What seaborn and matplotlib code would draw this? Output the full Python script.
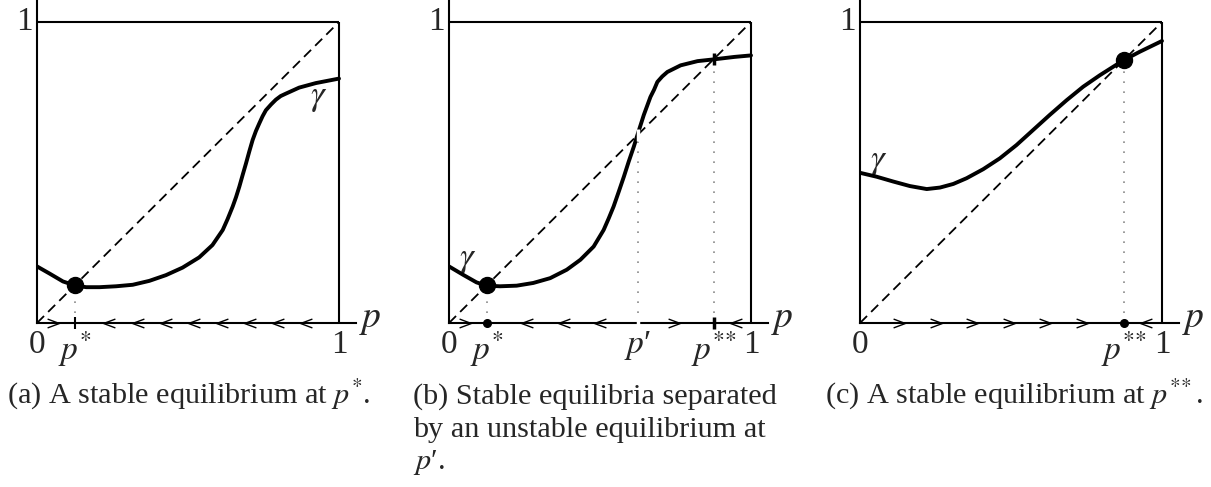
import matplotlib
matplotlib.use("Agg")
import matplotlib.pyplot as plt
from matplotlib.path import Path
import seaborn as sns
import pandas as pd

# ---- curve gamma(p) for each scenario ----
a_p = [0.0, 0.042, 0.086, 0.128, 0.163, 0.207, 0.262, 0.317, 0.372, 0.427, 0.482,
       0.537, 0.581, 0.615, 0.631, 0.648, 0.659, 0.670, 0.681, 0.692, 0.703,
       0.714, 0.725, 0.736, 0.747, 0.758, 0.775, 0.791, 0.807, 0.824, 0.868,
       0.923, 1.0]
a_g = [0.188, 0.164, 0.138, 0.124, 0.119, 0.119, 0.122, 0.127, 0.140, 0.159, 0.184,
       0.218, 0.259, 0.309, 0.345, 0.387, 0.418, 0.453, 0.492, 0.530, 0.570,
       0.608, 0.638, 0.663, 0.687, 0.707, 0.726, 0.742, 0.754, 0.762, 0.782,
       0.797, 0.812]

b_p = [0.0, 0.047, 0.091, 0.124, 0.169, 0.224, 0.279, 0.335, 0.390, 0.435, 0.479,
       0.512, 0.529, 0.545, 0.562, 0.579, 0.595, 0.612, 0.625, 0.645, 0.667,
       0.679, 0.690, 0.706, 0.723, 0.745, 0.767, 0.823, 0.878, 0.945, 1.0]
b_g = [0.188, 0.160, 0.135, 0.124, 0.122, 0.124, 0.133, 0.149, 0.177, 0.210, 0.254,
       0.309, 0.348, 0.387, 0.436, 0.486, 0.536, 0.586, 0.628, 0.691, 0.751,
       0.775, 0.801, 0.819, 0.834, 0.845, 0.856, 0.870, 0.876, 0.884, 0.889]

c_p = [0.0, 0.055, 0.110, 0.165, 0.221, 0.265, 0.309, 0.353, 0.408, 0.463, 0.518,
       0.573, 0.628, 0.684, 0.739, 0.794, 0.838, 0.873, 0.926, 1.0]
c_g = [0.499, 0.486, 0.470, 0.455, 0.445, 0.450, 0.462, 0.481, 0.511, 0.547, 0.591,
       0.641, 0.691, 0.740, 0.785, 0.823, 0.851, 0.873, 0.901, 0.937]

# ---- equilibria ----
a_stable = [0.125]
b_stable = [0.125]
b_unstable = [0.625]
b_semi = [0.877]
c_stable = [0.873]

# ---- flow direction arrows along the p axis ----
a_right = [0.053]
a_left = [0.240, 0.333, 0.427, 0.520, 0.612, 0.705, 0.798, 0.892]
b_right = [0.053, 0.745]
b_left = [0.258, 0.380, 0.500, 0.950]
c_right = [0.129, 0.250, 0.371, 0.492, 0.613, 0.734]
c_left = [0.948]

# ---- axis labels ----
P_STAR = r"$p^{*}$"
P_STAR2 = r"$p^{*\!*}$"
P_PRIME = "$p$\u2032"

a_ticks = [0.0, 0.125, 1.0]
a_ticklabels = ["0", P_STAR, "1"]
b_ticks = [0.0, 0.125, 0.625, 0.877, 1.0]
b_ticklabels = ["0", P_STAR, P_PRIME, P_STAR2, "1"]
c_ticks = [0.0, 0.873, 1.0]
c_ticklabels = ["0", P_STAR2, "1"]

gamma_pos = {"a": (0.934, 0.75), "b": (0.06, 0.21), "c": (0.063, 0.535)}

captions = {
    "a": ["(a) A stable equilibrium at " + P_STAR + "."],
    "b": ["(b) Stable equilibria separated",
          "by an unstable equilibrium at",
          P_PRIME + "."],
    "c": ["(c) A stable equilibrium at " + P_STAR2 + "."],
}

sns.set_theme(style="white")
plt.rcParams["font.family"] = ["Liberation Serif", "DejaVu Serif"]
plt.rcParams["mathtext.fontset"] = "stix"

W, H = 1211, 487
fig = plt.figure(figsize=(W / 100, H / 100), dpi=100)
fig.patch.set_facecolor("white")

XMAX, YMAX = 1.057, 1.07
SQ_W, SQ_H = 302, 301
BOTTOM_PX = 323

right_head = Path([(-0.6, 0.45), (0.6, 0.0), (-0.6, -0.45)],
                  [Path.MOVETO, Path.LINETO, Path.LINETO])
left_head = Path([(0.6, 0.45), (-0.6, 0.0), (0.6, -0.45)],
                 [Path.MOVETO, Path.LINETO, Path.LINETO])

TICK_FS = 24
unit = [0, 1]


def panel(left_px, p, g, ticks, labels, right, left, key,
          stable=(), unstable=(), semi=(), axis_mark="dot"):
    ax = fig.add_axes([left_px / W, (H - BOTTOM_PX) / H,
                       SQ_W * XMAX / W, SQ_H * YMAX / H])
    ax.set_xlim(0, XMAX)
    ax.set_ylim(0, YMAX)
    ax.set_facecolor("none")
    for s in ("top", "right"):
        ax.spines[s].set_visible(False)
    for s in ("left", "bottom"):
        ax.spines[s].set_linewidth(1.5)
        ax.spines[s].set_color("black")
    ax.set_xticks([])
    ax.set_yticks([])

    # box edges at p = 1 and gamma = 1
    ax.plot(unit, [1, 1], color="black", lw=1.5, solid_capstyle="butt")
    ax.plot([1, 1], unit, color="black", lw=1.5, solid_capstyle="butt")
    # identity line
    ax.plot(unit, unit, color="black", lw=1.3, linestyle=(0, (5.5, 3.2)))

    # guide lines from equilibria down to the axis
    for x in list(stable) + list(unstable) + list(semi):
        ax.plot([x, x], [0, x], color="#8a8a8a", lw=1.2,
                linestyle=(0, (1, 5)), zorder=2)

    df = pd.DataFrame({"p": p, "gamma": g})
    sns.lineplot(data=df, x="p", y="gamma", ax=ax, color="black",
                 lw=2.8, sort=False, zorder=4)

    # flow arrows
    ax.plot(right, [0] * len(right), linestyle="none", marker=right_head,
            ms=8.5, mfc="none", mec="black", mew=1.0, clip_on=False, zorder=5)
    ax.plot(left, [0] * len(left), linestyle="none", marker=left_head,
            ms=8.5, mfc="none", mec="black", mew=1.0, clip_on=False, zorder=5)

    for x in stable:
        ax.plot([x], [x], "o", color="black", ms=11.5, zorder=6)
        if axis_mark == "dot":
            ax.plot([x], [0], "o", color="black", ms=5.5, clip_on=False, zorder=6)
        else:
            ax.plot([x], [0], "|", color="black", ms=8, mew=1.5,
                    clip_on=False, zorder=6)
    for x in semi:
        ax.plot([x, x], [x, 0], "|", color="black", ms=9, mew=2.5,
                linestyle="none", clip_on=False, zorder=6)
    for x in unstable:
        ax.plot([x, x], [x, 0], "|", color="white", ms=9, mew=2.5,
                linestyle="none", clip_on=False, zorder=6)

    for x, lab in zip(ticks, labels):
        ax.text(x, -0.02, lab, ha="center", va="top", fontsize=TICK_FS,
                clip_on=False)
    ax.text(-0.015, 1.0, "1", ha="right", va="center", fontsize=TICK_FS,
            clip_on=False)
    ax.text(XMAX + 0.008, 0.01, "$p$", ha="left", va="center",
            fontsize=TICK_FS + 3, clip_on=False)
    gx, gy = gamma_pos[key]
    ax.text(gx, gy, r"$\gamma$", ha="center", va="center",
            fontsize=TICK_FS + 1)
    return ax


panel(37, a_p, a_g, a_ticks, a_ticklabels, a_right, a_left, "a",
      stable=a_stable, axis_mark="tick")
panel(449, b_p, b_g, b_ticks, b_ticklabels, b_right, b_left, "b",
      stable=b_stable, unstable=b_unstable, semi=b_semi)
panel(860, c_p, c_g, c_ticks, c_ticklabels, c_right, c_left, "c",
      stable=c_stable)

CAP_FS = 21.8
cap_x = {"a": 7, "b": 413, "c": 825}
baselines = [404, 437, 469]
for key, lines in captions.items():
    for line, yb in zip(lines, baselines):
        fig.text(cap_x[key] / W, 1 - yb / H, line, ha="left", va="baseline",
                 fontsize=CAP_FS)

fig.savefig("out.png", dpi=100, facecolor="white")
